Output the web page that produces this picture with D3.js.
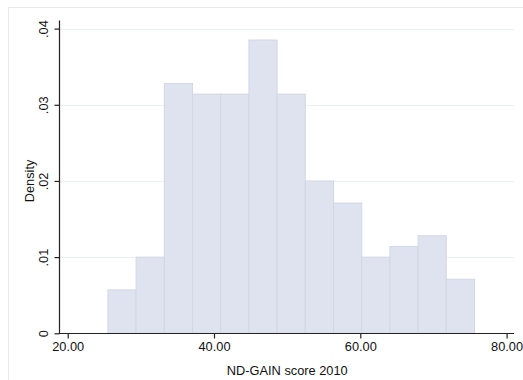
<!DOCTYPE html>
<html>
<head>
<meta charset="utf-8">
<script src="https://cdn.jsdelivr.net/npm/d3@7"></script>
<style>
  html, body { margin: 0; padding: 0; background: #fff; }
  svg { display: block; font-family: "Liberation Sans", Arial, Helvetica, sans-serif; }
</style>
</head>
<body>
<svg id="chart" width="523" height="380"></svg>
<script>
// Histogram of ND-GAIN score 2010 (density scale)
const binStart = 25.5;
const binWidth = 3.855;
const densities = [0.0057, 0.0100, 0.0328, 0.0314, 0.0314, 0.0385, 0.0314,
                   0.0200, 0.0171, 0.0100, 0.0114, 0.0128, 0.0071];
const xTicks = [20, 40, 60, 80];
const yTicks = [0, 0.01, 0.02, 0.03, 0.04];
const xTitle = "ND-GAIN score 2010";
const yTitle = "Density";

const svg = d3.select("#chart");

// outer graph-region frame
svg.append("rect")
  .attr("x", 8.5).attr("y", 7.5)
  .attr("width", 530).attr("height", 390)
  .attr("fill", "#fff")
  .attr("stroke", "#e6eaeb").attr("stroke-width", 1);

const x = d3.scaleLinear().domain([20, 80]).range([67.7, 506.6]);
const y = d3.scaleLinear().domain([0, 0.04]).range([333.3, 28.6]);

const axisLeftX = 59.5;
const axisRightX = 514;
const axisTopY = 20.5;
const baseY = 333.5;

// horizontal grid lines
svg.append("g")
  .selectAll("line")
  .data(yTicks.filter(d => d > 0))
  .join("line")
  .attr("x1", axisLeftX).attr("x2", axisRightX)
  .attr("y1", d => Math.round(y(d)) + 0.5)
  .attr("y2", d => Math.round(y(d)) + 0.5)
  .attr("stroke", "#e9f0f1").attr("stroke-width", 1.2);

// bars
const bins = densities.map((d, i) => ({
  x0: binStart + i * binWidth,
  x1: binStart + (i + 1) * binWidth,
  d
}));
svg.append("g")
  .selectAll("rect")
  .data(bins)
  .join("rect")
  .attr("x", b => x(b.x0))
  .attr("width", b => x(b.x1) - x(b.x0))
  .attr("y", b => y(b.d))
  .attr("height", b => y(0) - y(b.d))
  .attr("fill", "#dfe3ef")
  .attr("stroke", "#d2d7e4").attr("stroke-width", 1);

// y axis
const yAxis = d3.axisLeft(y)
  .tickValues(yTicks)
  .tickSize(5)
  .tickFormat(d => d === 0 ? "0" : d3.format(".2f")(d).replace(/^0/, ""));
const gy = svg.append("g")
  .attr("transform", `translate(${axisLeftX},0)`)
  .call(yAxis);
gy.select(".domain").remove();
gy.append("line")
  .attr("x1", 0).attr("x2", 0)
  .attr("y1", axisTopY).attr("y2", baseY + 0.5)
  .attr("stroke", "#222").attr("stroke-width", 1.2);
gy.selectAll(".tick line").attr("stroke", "#222").attr("stroke-width", 1.2);
gy.selectAll(".tick text")
  .attr("x", 0).attr("dy", null)
  .attr("transform", "translate(-16,0) rotate(-90)")
  .attr("text-anchor", "middle")
  .attr("dominant-baseline", "central")
  .attr("font-size", 12.8)
  .attr("fill", "#111");

// x axis
const xAxis = d3.axisBottom(x)
  .tickValues(xTicks)
  .tickSize(5)
  .tickFormat(d3.format(".2f"));
const gx = svg.append("g")
  .attr("transform", `translate(0,${baseY})`)
  .call(xAxis);
gx.select(".domain").remove();
gx.append("line")
  .attr("x1", axisLeftX - 0.6).attr("x2", axisRightX)
  .attr("y1", 0).attr("y2", 0)
  .attr("stroke", "#222").attr("stroke-width", 1.2);
gx.selectAll(".tick line").attr("stroke", "#222").attr("stroke-width", 1.2);
gx.selectAll(".tick text")
  .attr("y", 8).attr("dy", "0.71em")
  .attr("font-size", 12.8)
  .attr("fill", "#111");

// axis titles
svg.append("text")
  .attr("x", (axisLeftX + axisRightX) / 2 + 0.5)
  .attr("y", 375)
  .attr("text-anchor", "middle")
  .attr("font-size", 12.8)
  .attr("fill", "#111")
  .text(xTitle);

svg.append("text")
  .attr("transform", `translate(34,${(y(0) + y(0.04)) / 2}) rotate(-90)`)
  .attr("text-anchor", "middle")
  .attr("font-size", 12.8)
  .attr("fill", "#111")
  .text(yTitle);
</script>
</body>
</html>
